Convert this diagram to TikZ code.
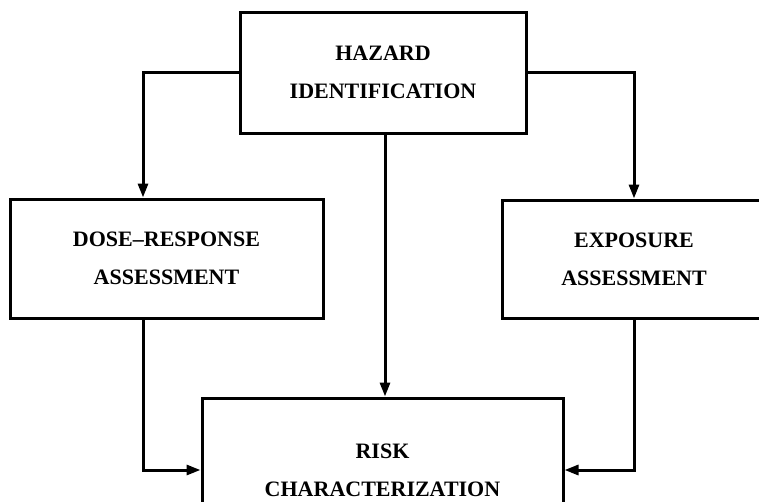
\documentclass[tikz,border=0pt]{standalone}
\usepackage{fontspec}
\setmainfont{Liberation Serif}
\usepackage{tikz}
\usetikzlibrary{arrows.meta,calc}

\tikzset{
	stage/.style={draw, line width=3pt, rectangle, align=center,
		font=\fontsize{22}{38}\selectfont\bfseries},
	arr/.style={line width=3pt, -{Stealth[length=14pt,width=10pt,inset=0pt]}}
}

\begin{document}
\begin{tikzpicture}[x=1pt,y=1pt]
	\useasboundingbox (0,0) rectangle (759,-501);
	\clip (0,0) rectangle (759,-501);
	\node[stage, minimum width=286pt, minimum height=121pt] (hazard) at (383,-72.5) {HAZARD\\IDENTIFICATION};
	\node[stage, minimum width=313pt, minimum height=119pt] (dose) at (166.5,-258.5) {DOSE--RESPONSE\\ASSESSMENT};
	\node[stage, minimum width=264pt, minimum height=118pt] (expo) at (634,-259) {EXPOSURE\\ASSESSMENT};
	\node[stage, minimum width=361pt, minimum height=144pt] (risk) at (382.5,-470) {RISK\\CHARACTERIZATION};
	\coordinate (lcol) at (143,0);
	%\draw (0,0) rectangle (759,-501);
	\draw[arr] (hazard.west) -| (lcol |- dose.north);
	\draw[arr] (hazard.east) -| (expo.north);
	\draw[arr] (hazard.south -| 385,0) -- (risk.north -| 385,0);
	\draw[arr] (lcol |- dose.south) |- (risk.west);
	\draw[arr] (expo.south) |- (risk.east);
\end{tikzpicture}
\end{document}
